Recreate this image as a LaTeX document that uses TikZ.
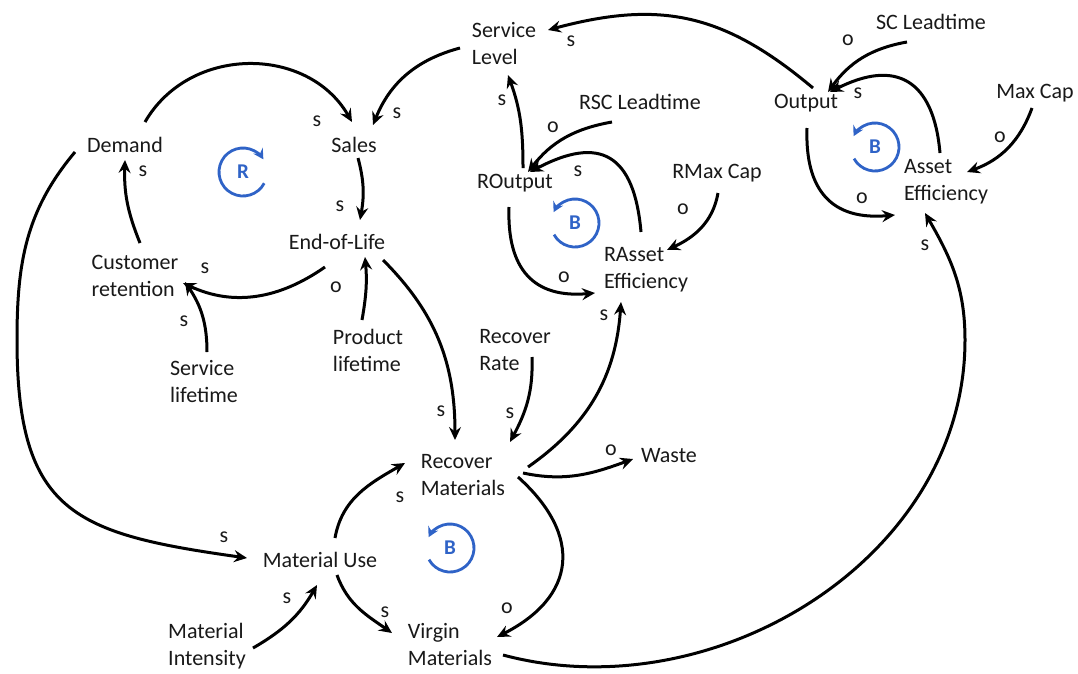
\documentclass[tikz,border=0pt]{standalone}
\usepackage{fontspec}
\setmainfont{Carlito}
\usetikzlibrary{arrows.meta}
\definecolor{loopblue}{RGB}{47,99,199}
\definecolor{ink}{RGB}{25,25,25}
\begin{document}
\begin{tikzpicture}[x=1pt,y=1pt,
  var/.style={inner sep=0pt, align=left, font=\fontsize{22}{27}\selectfont, text=ink},
  pol/.style={inner sep=0pt, font=\fontsize{22}{27}\selectfont, text=ink},
  link/.style={line width=3pt, draw=black, -{Stealth[length=13pt,width=12pt,inset=4.5pt]}},
  loopa/.style={line width=2.8pt, draw=loopblue, -{Stealth[length=10pt,width=11pt,inset=3.5pt]}},
  looptxt/.style={inner sep=0pt, text=loopblue, font=\fontsize{21}{23}\selectfont\bfseries}
]
\fill[white] (0,0) rectangle (1078,-673);
\useasboundingbox (0,0) rectangle (1078,-673);

% variables
\node[var] (Dem) at (125,-145) {Demand};
\node[var] (Sal) at (354,-145) {Sales};
\node[var] (SL) at (504,-44) {Service\\Level};
\node[var] (Out) at (806,-103) {Output};
\node[var] (SCL) at (931,-22) {SC Leadtime};
\node[var] (MaxC) at (1035,-93) {Max Cap};
\node[var] (AE) at (946,-182) {Asset\\Efficiency};
\node[var] (RSC) at (640,-102) {RSC Leadtime};
\node[var] (ROut) at (515,-183) {ROutput};
\node[var] (RMax) at (717,-173) {RMax Cap};
\node[var] (RAE) at (646,-270) {RAsset\\Efficiency};
\node[var] (EoL) at (337,-242) {End-of-Life};
\node[var] (CR) at (135,-276) {Customer\\retention};
\node[var] (SLt) at (204,-382) {Service\\lifetime};
\node[var] (PL) at (368,-350) {Product\\lifetime};
\node[var] (RR) at (515,-350) {Recover\\Rate};
\node[var] (RM) at (463,-475) {Recover\\Materials};
\node[var] (Waste) at (669,-456) {Waste};
\node[var] (MU) at (320,-560) {Material Use};
\node[var] (MI) at (207,-646) {Material\\Intensity};
\node[var] (VM) at (450,-644) {Virgin\\Materials};

% loop markers
\node[looptxt] (Rl) at (243,-172) {R};
\node[looptxt] (B1) at (875,-147) {B};
\node[looptxt] (B2) at (575,-223) {B};
\node[looptxt] (B3) at (450,-548) {B};
\draw[loopa] ([shift={(-28:24)}]Rl.center) arc[start angle=-28,end angle=-328,radius=24];
\draw[loopa] ([shift={(-151:24)}]B1.center) arc[start angle=-151,end angle=153,radius=24];
\draw[loopa] ([shift={(-151:24)}]B2.center) arc[start angle=-151,end angle=153,radius=24];
\draw[loopa] ([shift={(-151:24)}]B3.center) arc[start angle=-151,end angle=153,radius=24];

% waypoints
\coordinate (wDem) at (17,-340);
\coordinate (wVM) at (965,-340);

% links
\draw[link] ([shift={(20,23)}]Dem.center) to[out=60,in=120,looseness=1.1] ([shift={(-2,23)}]Sal.center);
\draw[link] ([shift={(-44,-4)}]SL.center) to[out=195,in=68] ([shift={(19,20)}]Sal.center);
\draw[link] ([shift={(4,-13)}]Sal.center) to[out=-75,in=80] ([shift={(23,22)}]EoL.center);
\draw[link] ([shift={(-12,-25)}]EoL.center) to[out=215,in=-25] ([shift={(48,-7)}]CR.center);
\draw[link] ([shift={(3,30)}]SLt.center) to[out=90,in=-56] ([shift={(50,-6)}]CR.center);
\draw[link] ([shift={(5,33)}]CR.center) to[out=112,in=-92] ([shift={(0,-15)}]Dem.center);
\draw[link] ([shift={(-50,-7)}]Dem.center) to[out=230,in=90] (wDem) to[out=-90,in=172,looseness=1.4] ([shift={(-73,2)}]MU.center);
\draw[link] ([shift={(46,-18)}]EoL.center) to[out=-45,in=90] ([shift={(-8,35)}]RM.center);
\draw[link] ([shift={(17,-7)}]RR.center) to[out=-88,in=62] ([shift={(47,33)}]RM.center);
\draw[link] ([shift={(65,8)}]RM.center) to[out=35,in=-94] ([shift={(-25,-32)}]RAE.center);
\draw[link] ([shift={(60,2)}]RM.center) to[out=-12,in=-160] ([shift={(-36,-3)}]Waste.center);
\draw[link] ([shift={(55,-2)}]RM.center) to[out=-42,in=27,looseness=1.4] ([shift={(47,7)}]VM.center);
\draw[link] ([shift={(15,22)}]MU.center) to[out=80,in=-150] ([shift={(-58,12)}]RM.center);
\draw[link] ([shift={(17,-15)}]MU.center) to[out=-70,in=145] ([shift={(-58,11)}]VM.center);
\draw[link] ([shift={(46,-2)}]MI.center) to[out=30,in=-120] ([shift={(-3,-25)}]MU.center);
\draw[link] ([shift={(53,-11)}]VM.center) to[out=-15,in=-90] (wVM) to[out=90,in=-60] ([shift={(-21,-31)}]AE.center);
\draw[link] ([shift={(8,15)}]ROut.center) to[out=90,in=-70] ([shift={(4,-31)}]SL.center);
\draw[link] ([shift={(-28,-20)}]RSC.center) to[out=190,in=52] ([shift={(13,11)}]ROut.center);
\draw[link] ([shift={(-5,38)}]RAE.center) to[out=95,in=28,looseness=1.6] ([shift={(15,11)}]ROut.center);
\draw[link] ([shift={(-6,-24)}]ROut.center) to[out=-92,in=185,looseness=1.3] ([shift={(-51,-23)}]RAE.center);
\draw[link] ([shift={(1,-20)}]RMax.center) to[out=-100,in=25] ([shift={(21,20)}]RAE.center);
\draw[link] ([shift={(7,15)}]Out.center) to[out=140,in=15,looseness=1.1] ([shift={(44,14)}]SL.center);
\draw[link] ([shift={(-24,-20)}]SCL.center) to[out=190,in=54] ([shift={(22,11)}]Out.center);
\draw[link] ([shift={(-6,29)}]AE.center) to[out=95,in=27,looseness=1.5] ([shift={(24,11)}]Out.center);
\draw[link] ([shift={(1,-25)}]Out.center) to[out=-92,in=185,looseness=1.3] ([shift={(-51,-33)}]AE.center);
\draw[link] ([shift={(-3,-15)}]MaxC.center) to[out=-110,in=20] ([shift={(21,10)}]AE.center);
\draw[link] ([shift={(-6,30)}]PL.center) to[out=80,in=-85] ([shift={(28,-15)}]EoL.center);

% polarity labels
\node[pol] (p1) at (317,-121) {s};
\node[pol] (p2) at (397,-113) {s};
\node[pol] (p3) at (340,-206) {s};
\node[pol] (p4) at (205,-268) {s};
\node[pol] (p5) at (336,-287) {o};
\node[pol] (p6) at (184,-321) {s};
\node[pol] (p7) at (143,-171) {s};
\node[pol] (p8) at (224,-537) {s};
\node[pol] (p9) at (441,-411) {s};
\node[pol] (p10) at (510,-413) {s};
\node[pol] (p11) at (604,-315) {s};
\node[pol] (p12) at (611,-450) {o};
\node[pol] (p13) at (507,-608) {o};
\node[pol] (p14) at (400,-497) {s};
\node[pol] (p15) at (385,-612) {s};
\node[pol] (p16) at (287,-598) {s};
\node[pol] (p17) at (925,-245) {s};
\node[pol] (p18) at (502,-100) {s};
\node[pol] (p19) at (553,-127) {o};
\node[pol] (p20) at (578,-171) {s};
\node[pol] (p21) at (564,-277) {o};
\node[pol] (p22) at (683,-209) {o};
\node[pol] (p23) at (571,-41) {s};
\node[pol] (p24) at (848,-40) {o};
\node[pol] (p25) at (858,-93) {s};
\node[pol] (p26) at (862,-198) {o};
\node[pol] (p27) at (1000,-137) {o};
\end{tikzpicture}
\end{document}
